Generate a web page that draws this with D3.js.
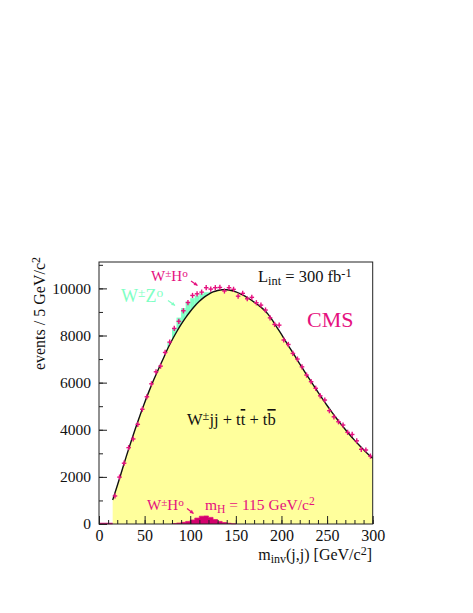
<!doctype html>
<html>
<head>
<meta charset="utf-8"/>
<style>
  html, body { margin: 0; padding: 0; background: #fff; }
  svg { display: block; font-family: "Liberation Serif", "DejaVu Serif", serif; }
</style>
<script src="https://d3js.org/d3.v7.min.js"></script>
</head>
<body>
<svg id="chart" width="473" height="613"></svg>
<script>
// background fit curve (W+jj + tt + tb), GeV -> events / 5 GeV
var bgMass = [15, 20, 25, 30, 35, 40, 45, 50, 55, 60, 65, 70, 75, 80, 85, 90, 95, 100, 105, 110,
              115, 120, 125, 130, 135, 140, 145, 150, 155, 160, 165, 170, 175, 180, 185, 190, 195, 200,
              205, 210, 215, 220, 225, 230, 235, 240, 245, 250, 255, 260, 265, 270, 275, 280, 285, 290, 295, 300];
var bgEvents = [1020, 1620, 2250, 2880, 3480, 4060, 4620, 5150, 5650, 6120, 6560, 6980, 7420, 7800, 8150, 8470, 8760, 9020, 9250, 9450,
                9620, 9750, 9850, 9910, 9940, 9940, 9910, 9850, 9770, 9670, 9550, 9420, 9280, 9120, 8920, 8650, 8350, 8050,
                7730, 7420, 7110, 6800, 6490, 6190, 5890, 5600, 5310, 5030, 4760, 4500, 4250, 4010, 3780, 3560, 3350, 3150, 2960, 2790];

// W+Z0 contribution, bins of 5 GeV (lower edge)
var wzBinLow = [75, 80, 85, 90, 95, 100, 105, 110, 115, 120];
var wzEvents = [100, 300, 450, 550, 550, 450, 350, 250, 150, 50];

// W+H0 signal (mH = 115), bins of 5 GeV (lower edge)
var whBinLow = [80, 85, 90, 95, 100, 105, 110, 115, 120, 125, 130, 135, 140, 145];
var whEvents = [20, 40, 70, 110, 170, 250, 330, 340, 280, 190, 110, 60, 30, 10];

// total (pseudo-data crosses), bin centres
var dataMass = [17.5, 22.5, 27.5, 32.5, 37.5, 42.5, 47.5, 52.5, 57.5, 62.5, 67.5, 72.5, 77.5, 82.5, 87.5, 92.5, 97.5,
                102.5, 107.5, 112.5, 117.5, 122.5, 127.5, 132.5, 137.5, 142.5, 147.5, 152.5, 157.5, 162.5, 167.5, 172.5,
                177.5, 182.5, 187.5, 192.5, 197.5, 202.5, 207.5, 212.5, 217.5, 222.5, 227.5, 232.5, 237.5, 242.5, 247.5,
                252.5, 257.5, 262.5, 267.5, 272.5, 277.5, 282.5, 287.5, 292.5, 297.5];
var dataEvents = [1190, 1990, 2580, 3240, 3610, 4230, 4870, 5400, 5950, 6460, 6700, 7280, 7720, 8300, 8600, 9050, 9400,
                  9700, 9770, 9840, 10030, 9970, 10030, 10040, 9890, 10030, 9960, 9670, 9790, 9560, 9620, 9390,
                  9290, 9080, 8750, 8470, 8440, 7810, 7620, 7240, 7000, 6670, 6320, 6040, 5760, 5440, 5260,
                  4810, 4550, 4340, 4200, 3890, 3800, 3530, 3170, 3140, 2880];

var xTicks = [0, 50, 100, 150, 200, 250, 300];
var yTicks = [0, 2000, 4000, 6000, 8000, 10000];

var pink = "#e5117f", pinkDark = "#d4006c", yellow = "#ffff9c", green = "#80ffc4";

var svg = d3.select("#chart");
var x = d3.scaleLinear().domain([0, 300]).range([99, 372.7]);
var y = d3.scaleLinear().domain([0, 11120]).range([524, 262]);

var bg = bgMass.map(function(m, i) { return [m, bgEvents[i]]; });
function bgAt(m) { return bgEvents[bgMass.indexOf(m)]; }

// W+Z0 histogram sits on top of the background, drawn under it
wzBinLow.forEach(function(lo, i) {
    var base = (bgAt(lo) + bgAt(lo + 5)) / 2;
    svg.append("rect")
        .attr("x", x(lo)).attr("width", x(lo + 5) - x(lo))
        .attr("y", y(base + wzEvents[i])).attr("height", y(0) - y(base + wzEvents[i]))
        .attr("fill", green);
});

svg.append("path")
    .datum(bg)
    .attr("fill", yellow)
    .attr("d", d3.area().curve(d3.curveMonotoneX)
        .x(function(d) { return x(d[0]); })
        .y0(y(0))
        .y1(function(d) { return y(d[1]); }));

// zero line of the signal histogram
svg.append("line")
    .attr("x1", x(0)).attr("x2", x(15))
    .attr("y1", y(0) - 0.5).attr("y2", y(0) - 0.5)
    .attr("stroke", pink).attr("stroke-width", 1.5);

// W+H0 signal histogram
var whPts = [[whBinLow[0], 0]];
whBinLow.forEach(function(lo, i) {
    whPts.push([lo, whEvents[i]]);
    whPts.push([lo + 5, whEvents[i]]);
});
whPts.push([whBinLow[whBinLow.length - 1] + 5, 0]);
svg.append("path")
    .datum(whPts)
    .attr("fill", pinkDark).attr("stroke", pink).attr("stroke-width", 0.8)
    .attr("d", d3.line().x(function(d) { return x(d[0]); }).y(function(d) { return y(d[1]); }));

// fit curve
svg.append("path")
    .datum(bg)
    .attr("fill", "none").attr("stroke", "#111").attr("stroke-width", 1.4)
    .attr("d", d3.line().curve(d3.curveMonotoneX)
        .x(function(d) { return x(d[0]); })
        .y(function(d) { return y(d[1]); }));

// data crosses
var cross = svg.append("g").attr("stroke", pink).attr("stroke-width", 1.4);
dataMass.forEach(function(m, i) {
    var cy = y(dataEvents[i]);
    cross.append("line").attr("x1", x(m - 2.5)).attr("x2", x(m + 2.5)).attr("y1", cy).attr("y2", cy);
    cross.append("line").attr("x1", x(m)).attr("x2", x(m)).attr("y1", cy - 2.6).attr("y2", cy + 2.6);
});

// frame
svg.append("rect")
    .attr("x", x(0)).attr("y", y(11120))
    .attr("width", x(300) - x(0)).attr("height", y(0) - y(11120))
    .attr("fill", "none").attr("stroke", "#222").attr("stroke-width", 1);

// axes with ticks inside
var xAxis = svg.append("g").attr("transform", "translate(0," + y(0) + ")")
    .call(d3.axisBottom(x).tickValues(xTicks).tickSizeInner(-8).tickSizeOuter(0).tickPadding(3));
var xMinor = svg.append("g").attr("transform", "translate(0," + y(0) + ")")
    .call(d3.axisBottom(x).ticks(30).tickSizeInner(-4).tickSizeOuter(0).tickFormat(""));
var yAxis = svg.append("g").attr("transform", "translate(" + x(0) + ",0)")
    .call(d3.axisLeft(y).tickValues(yTicks).tickSizeInner(-8).tickSizeOuter(0).tickPadding(8).tickFormat(d3.format("d")));
var yMinor = svg.append("g").attr("transform", "translate(" + x(0) + ",0)")
    .call(d3.axisLeft(y).ticks(11).tickSizeInner(-4).tickSizeOuter(0).tickFormat(""));
[xAxis, xMinor, yAxis, yMinor].forEach(function(g) {
    g.select(".domain").remove();
    g.selectAll("line").attr("stroke", "#222");
    g.selectAll("text").attr("font-family", "Liberation Serif").attr("font-size", 15.5).attr("fill", "#111");
});
xAxis.selectAll("text").attr("font-size", 16).attr("dy", "0.85em");

// text labels
function label(tx, ty, size, color, parts, anchor) {
    var t = svg.append("text").attr("x", tx).attr("y", ty)
        .attr("font-size", size).attr("fill", color).attr("text-anchor", anchor || "start");
    parts.forEach(function(p) {
        var s = t.append("tspan").text(p[0]);
        if (p[1] === "sup") s.attr("baseline-shift", "38%").attr("font-size", size * 0.75);
        if (p[1] === "sub") s.attr("baseline-shift", "-25%").attr("font-size", size * 0.75);
        if (p[1] === "over") s.attr("text-decoration", "overline");
    });
    return t;
}
function arrow(x1, y1, x2, y2, color) {
    svg.append("line").attr("x1", x1).attr("y1", y1).attr("x2", x2).attr("y2", y2)
        .attr("stroke", color).attr("stroke-width", 1.2);
    var a = Math.atan2(y2 - y1, x2 - x1), h = 4;
    svg.append("path")
        .attr("d", "M" + x2 + "," + y2 +
            "L" + (x2 - h * Math.cos(a - 0.5)) + "," + (y2 - h * Math.sin(a - 0.5)) +
            "L" + (x2 - h * Math.cos(a + 0.5)) + "," + (y2 - h * Math.sin(a + 0.5)) + "Z")
        .attr("fill", color);
}

label(151, 281, 15, pink, [["W"], ["\u00b1", "sup"], ["H"], ["o", "sup"]]);
arrow(191, 281, 197.5, 285.5, pink);
label(121, 302, 18, green, [["W"], ["\u00b1", "sup"], ["Z"], ["o", "sup"]]);
arrow(168, 300.5, 175, 305.5, green);
label(258, 282, 16.5, "#111", [["L"], ["int", "sub"], [" = 300 fb"], ["-1", "sup"]]);
label(307, 327, 22, pink, [["CMS"]]);
label(187, 425, 16.5, "#111", [["W"], ["\u00b1", "sup"], ["jj + t"], ["t", "over"], [" + t"], ["b", "over"]]);
label(147, 510, 15, pink, [["W"], ["\u00b1", "sup"], ["H"], ["o", "sup"]]);
arrow(187, 508.5, 193.5, 513.5, pink);
label(205, 510, 15.5, pink, [["m"], ["H", "sub"], [" = 115 GeV/c"], ["2", "sup"]]);
label(372, 560, 16, "#111", [["m"], ["inv", "sub"], ["(j,j) [GeV/c"], ["2", "sup"], ["]"]], "end");

svg.append("text")
    .attr("transform", "translate(45,257) rotate(-90)")
    .attr("text-anchor", "end").attr("font-size", 16).attr("fill", "#111")
    .call(function(t) {
        t.append("tspan").text("events / 5 GeV/c");
        t.append("tspan").text("2").attr("baseline-shift", "38%").attr("font-size", 12);
    });
</script>
</body>
</html>
